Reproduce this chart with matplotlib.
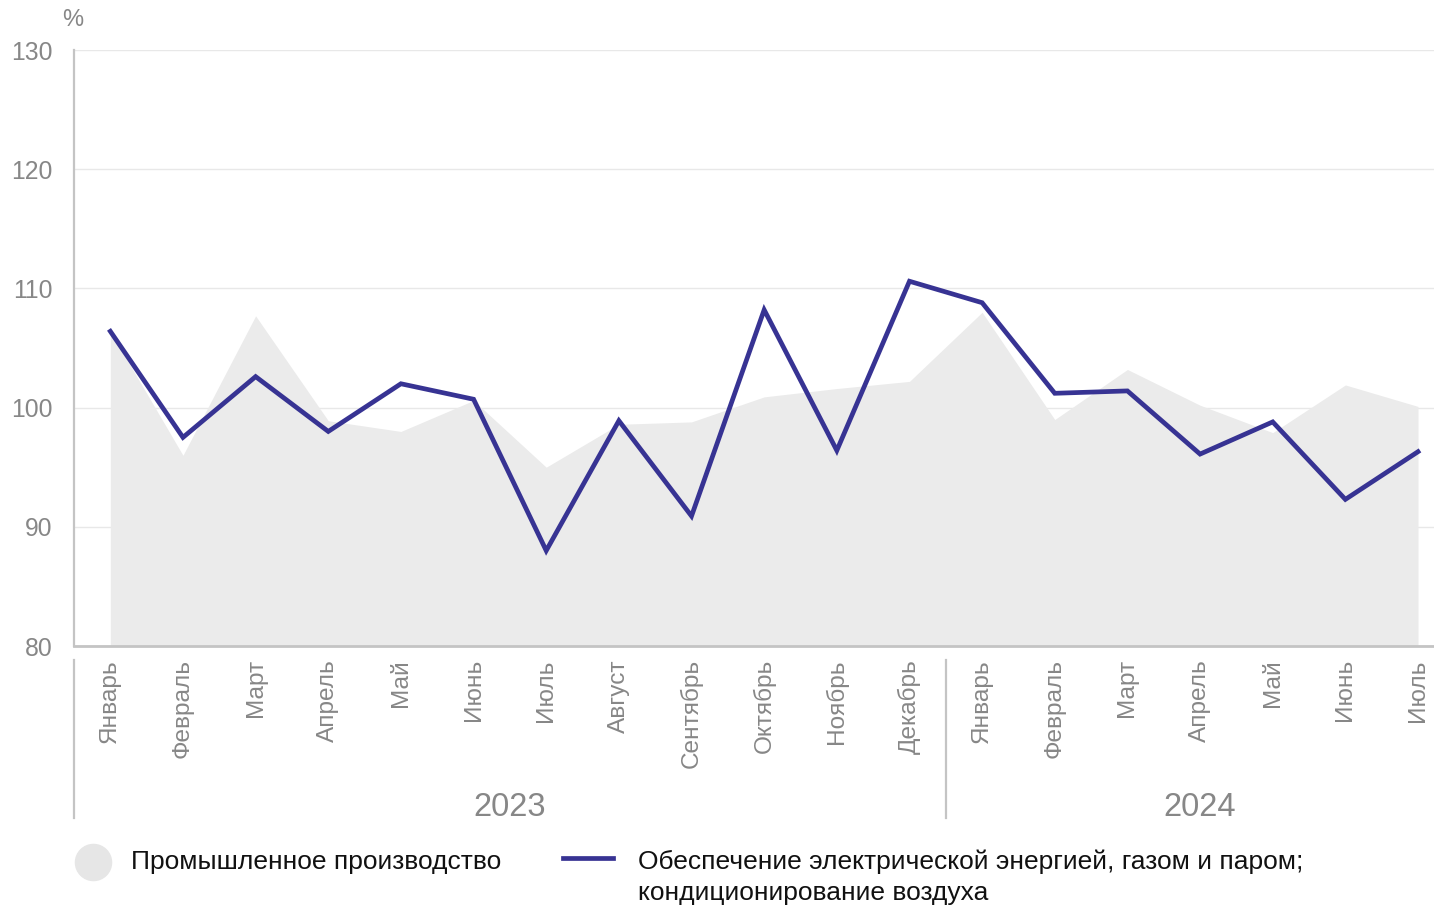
import matplotlib
matplotlib.use("Agg")
import matplotlib.pyplot as plt
from matplotlib.lines import Line2D
from matplotlib.transforms import blended_transform_factory

plt.rcParams["font.family"] = ["Liberation Sans", "DejaVu Sans"]

months = ["Январь", "Февраль", "Март", "Апрель", "Май", "Июнь", "Июль", "Август",
          "Сентябрь", "Октябрь", "Ноябрь", "Декабрь",
          "Январь", "Февраль", "Март", "Апрель", "Май", "Июнь", "Июль"]
years = ["2023", "2024"]

# Промышленное производство (area)
industry = [106.4, 96.0, 107.7, 98.9, 98.0, 100.6, 95.0, 98.6, 98.8, 100.9,
            101.6, 102.2, 108.0, 99.0, 103.2, 100.2, 97.9, 101.9, 100.1]
# Обеспечение электрической энергией... (line)
energy = [106.4, 97.5, 102.6, 98.0, 102.0, 100.7, 88.0, 98.9, 90.9, 108.2,
          96.4, 110.6, 108.8, 101.2, 101.4, 96.1, 98.8, 92.3, 96.3]

LINE_COLOR = "#373393"
AREA_COLOR = "#ebebeb"
GRAY = "#878787"
AXIS_GRAY = "#c4c4c4"

W, H = 1434, 907
fig = plt.figure(figsize=(W / 100, H / 100), dpi=100)
ax = fig.add_axes([74 / W, 1 - 646 / H, 1 - 74 / W, (646 - 50) / H])

x = list(range(len(months)))
ax.fill_between(x, 80, industry, color=AREA_COLOR, lw=0, zorder=2)
ax.plot(x, energy, color=LINE_COLOR, lw=3.4, solid_joinstyle="miter", zorder=3)

ax.set_xlim(-0.5, 18.22)
ax.set_ylim(80, 130)
ax.set_yticks([80, 90, 100, 110, 120, 130])
ax.yaxis.grid(True, color="#e8e8e8", lw=1, zorder=0)
ax.set_axisbelow(True)

for s in ["top", "right"]:
    ax.spines[s].set_visible(False)
ax.spines["left"].set_color(AXIS_GRAY)
ax.spines["left"].set_linewidth(1.6)
ax.spines["bottom"].set_color(AXIS_GRAY)
ax.spines["bottom"].set_linewidth(2)
ax.spines["bottom"].set_zorder(4)

ax.tick_params(axis="y", length=0, pad=15.5, labelsize=17.8, labelcolor=GRAY)
ax.set_xticks(x)
ax.set_xticklabels(months, rotation=90, fontsize=17.6, color=GRAY)
ax.tick_params(axis="x", length=0, pad=9.5)

fig.text(73 / W, 1 - 20 / H, "%", fontsize=17, color=GRAY, ha="center", va="center")

# year group separators and labels
trans = blended_transform_factory(ax.transData, fig.transFigure)
for sx in [-0.5, 11.5]:
    fig.add_artist(Line2D([sx, sx], [1 - 660 / H, 1 - 818 / H], transform=trans,
                          color=AXIS_GRAY, lw=1.6))
for yx, label in zip([5.5, 15.0], years):
    fig.text(yx, 1 - 807 / H, label, transform=trans, fontsize=23.5, color=GRAY,
             ha="center", va="center")

# legend
fig.add_artist(Line2D([93 / W], [1 - 862 / H], transform=fig.transFigure, marker="o",
                      ms=26, color="#e6e6e6", lw=0))
fig.text(131 / W, 1 - 862 / H, "Промышленное производство", fontsize=19,
         color="#111111", va="center")
fig.add_artist(Line2D([563 / W, 613 / W], [1 - 858 / H, 1 - 858 / H],
                      transform=fig.transFigure, color=LINE_COLOR, lw=3.4))
fig.text(638 / W, 1 - 862 / H, "Обеспечение электрической энергией, газом и паром;",
         fontsize=19, color="#111111", va="center")
fig.text(638 / W, 1 - 893 / H, "кондиционирование воздуха",
         fontsize=19, color="#111111", va="center")

fig.savefig("out.png", dpi=100)
